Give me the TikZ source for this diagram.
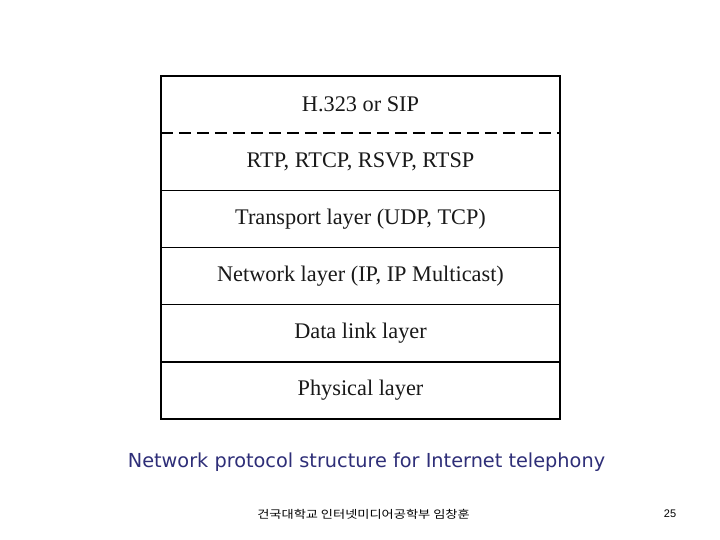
\documentclass[tikz,border=0pt]{standalone}
\usepackage{fontspec}
\newfontfamily\layerfont{Liberation Serif}
\newfontfamily\capfont{DejaVu Sans}
\newfontfamily\krfont{Noto Sans CJK KR}
\newfontfamily\numfont{Liberation Sans}
\definecolor{capnavy}{RGB}{46,46,120}
\begin{document}
\begin{tikzpicture}[x=1pt,y=-1pt,
  layer/.style={draw=none,minimum width=399pt,minimum height=57pt,inner sep=0pt,
    font=\layerfont\fontsize{22.3}{25}\selectfont,text=black!90},
  sep/.style={line width=1.3pt,black},
  frame/.style={line width=2pt,black}]
\useasboundingbox[fill=white] (0,0) rectangle (720,540);
\node[layer] (l1) at (360.5,104.6) {H.323 or SIP};
\node[layer] (l2) at (360.5,161.8) {RTP, RTCP, RSVP, RTSP};
\node[layer] (l3) at (360.5,218.9) {Transport layer (UDP, TCP)};
\node[layer] (l4) at (360.5,276.1) {Network layer (IP, IP Multicast)};
\node[layer] (l5) at (360.5,333.3) {Data link layer};
\node[layer] (l6) at (360.5,390.4) {Physical layer};
\draw[sep,dashed,dash pattern=on 12pt off 6pt,line width=2pt] (l1.south west) -- (l1.south east);
\draw[sep] (l2.south west) -- (l2.south east);
\draw[sep] (l3.south west) -- (l3.south east);
\draw[sep] (l4.south west) -- (l4.south east);
\draw[sep] (l5.south west) -- (l5.south east);
\draw[frame] (l1.north west) rectangle (l6.south east);
\node[text=capnavy,font=\capfont\fontsize{19.3}{22}\selectfont] (cap) at (366.5,462) {Network protocol structure for Internet telephony};
\node[font=\krfont\fontsize{11}{12}\selectfont] (foot) at (363.5,514) {\scalebox{1.2}[1]{건국대학교 인터넷미디어공학부 임창훈}};
\node[font=\numfont\fontsize{11}{12}\selectfont] (pg) at (670,514) {25};
\end{tikzpicture}
\end{document}
